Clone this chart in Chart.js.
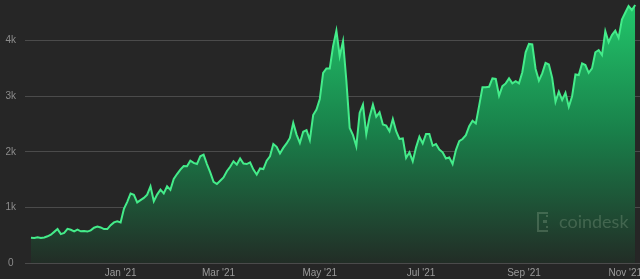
<!DOCTYPE html>
<html><head><meta charset="utf-8">
<script src="https://cdn.jsdelivr.net/npm/chart.js@4"></script>
<style>html,body{margin:0;padding:0;background:#262626;overflow:hidden}#wrap{width:640px;height:279px;position:relative}</style>
</head><body><div id="wrap"><canvas id="c"></canvas></div>
<script>
// ETH price, one value every 2 days starting 2020-11-08
const startDate = '2020-11-08';
const stepDays = 2;
const prices = [
  // Nov 2020
  454,450,463,448,460,480,510,560,610,520,540,615,
  // Dec
  598,570,600,570,575,565,587,635,655,640,610,610,680,730,751,
  // Jan 2021
  730,975,1100,1250,1225,1090,1130,1170,1230,1380,1110,1230,1320,1250,1380,1315,
  // Feb
  1510,1600,1680,1745,1740,1840,1800,1780,1920,1950,1780,1630,1460,1420,
  // Mar
  1480,1540,1650,1730,1830,1770,1880,1790,1780,1810,1680,1590,1700,1690,1840,
  // Apr
  1920,2140,2090,1970,2070,2150,2250,2520,2310,2160,2360,2390,2210,2660,2760,
  // May
  2950,3420,3500,3500,3900,4180,3720,3990,3280,2430,2300,2100,2700,2850,2320,2630,
  // Jun
  2850,2630,2710,2490,2470,2370,2590,2370,2230,2240,1890,1990,1830,2080,2270,
  // Jul
  2150,2320,2320,2110,2140,2040,1990,1880,1900,1780,2030,2190,2230,2300,2460,
  // Aug
  2560,2510,2830,3160,3160,3170,3320,3310,3010,3180,3230,3320,3230,3270,3230,3430,
  // Sep
  3790,3940,3930,3490,3280,3410,3600,3570,3330,2900,3080,2930,3060,2810,3000,
  // Oct
  3390,3380,3590,3560,3420,3500,3790,3830,3740,4170,3970,4100,4180,4050,4380,
  // Nov
  4500,4620,4550,4640
];
const tickDays = [54, 113, 174, 235, 297, 358];
const tickLabels = ["Jan '21", "Mar '21", "May '21", "Jul '21", "Sep '21", "Nov '21"];
const yTickValues = [0, 1000, 2000, 3000, 4000];
const yTickLabels = ['0', '1k', '2k', '3k', '4k'];

const points = prices.map((v, i) => ({x: i * stepDays, y: v}));

const watermark = {
  id: 'watermark',
  afterDatasetsDraw(chart) {
    const ctx = chart.ctx;
    ctx.save();
    const col = 'rgba(150,175,150,0.3)';
    ctx.fillStyle = col;
    ctx.strokeStyle = col;
    ctx.lineWidth = 2;
    // icon
    ctx.beginPath();
    ctx.moveTo(548, 213); ctx.lineTo(538, 213); ctx.lineTo(538, 231); ctx.lineTo(548, 231);
    ctx.stroke();
    ctx.fillRect(543, 220, 4, 3);
    ctx.fillRect(546, 226, 2, 2);
    ctx.fillRect(546, 215, 2, 2);
    ctx.font = '18px Lato, "Open Sans", sans-serif';
    ctx.textBaseline = 'middle';
    ctx.textAlign = 'left';
    ctx.fillText('coindesk', 559, 222);
    ctx.restore();
  }
};

new Chart(document.getElementById('c'), {
  type: 'line',
  data: {
    datasets: [{
      data: points,
      borderColor: '#44ec8a',
      borderWidth: 2,
      pointRadius: 0,
      tension: 0,
      fill: 'origin',
      backgroundColor: (ctx) => {
        const ca = ctx.chart.chartArea;
        if (!ca) return 'rgba(30,160,80,0.6)';
        const g = ctx.chart.ctx.createLinearGradient(0, ca.top, 0, ca.bottom);
        g.addColorStop(0, '#22c96c');
        g.addColorStop(0.5, '#19804a');
        g.addColorStop(1, '#222d26');
        return g;
      }
    }]
  },
  options: {
    responsive: true,
    maintainAspectRatio: false,
    animation: false,
    devicePixelRatio: 1,
    layout: {padding: 0},
    plugins: {legend: {display: false}, tooltip: {enabled: false}},
    scales: {
      x: {
        type: 'linear',
        min: -3.6,
        max: 366.9,
        grid: {display: false, drawTicks: false},
        border: {display: false},
        afterBuildTicks: (s) => { s.ticks = tickDays.map(v => ({value: v})); },
        afterFit: (s) => { s.height = 16; s.paddingLeft = 0; s.paddingRight = 0; },
        ticks: {
          color: '#9a9a9a',
          font: {size: 10, family: 'Arial, "Liberation Sans", sans-serif'},
          maxRotation: 0,
          autoSkip: false,
          padding: 4,
          callback: (v) => tickLabels[tickDays.indexOf(v)]
        }
      },
      y: {
        type: 'linear',
        min: 0,
        max: 4730,
        grid: {color: '#4b4b4b', lineWidth: 1, drawTicks: false},
        border: {display: false},
        afterBuildTicks: (s) => { s.ticks = yTickValues.map(v => ({value: v})); },
        afterFit: (s) => { s.width = 25; s.paddingTop = 0; s.paddingBottom = 0; },
        ticks: {
          color: '#8c8c8c',
          font: {size: 10, family: 'Arial, "Liberation Sans", sans-serif'},
          padding: 9,
          crossAlign: 'center',
          callback: (v) => yTickLabels[yTickValues.indexOf(v)]
        }
      }
    }
  },
  plugins: [watermark]
});
</script>
</body></html>
